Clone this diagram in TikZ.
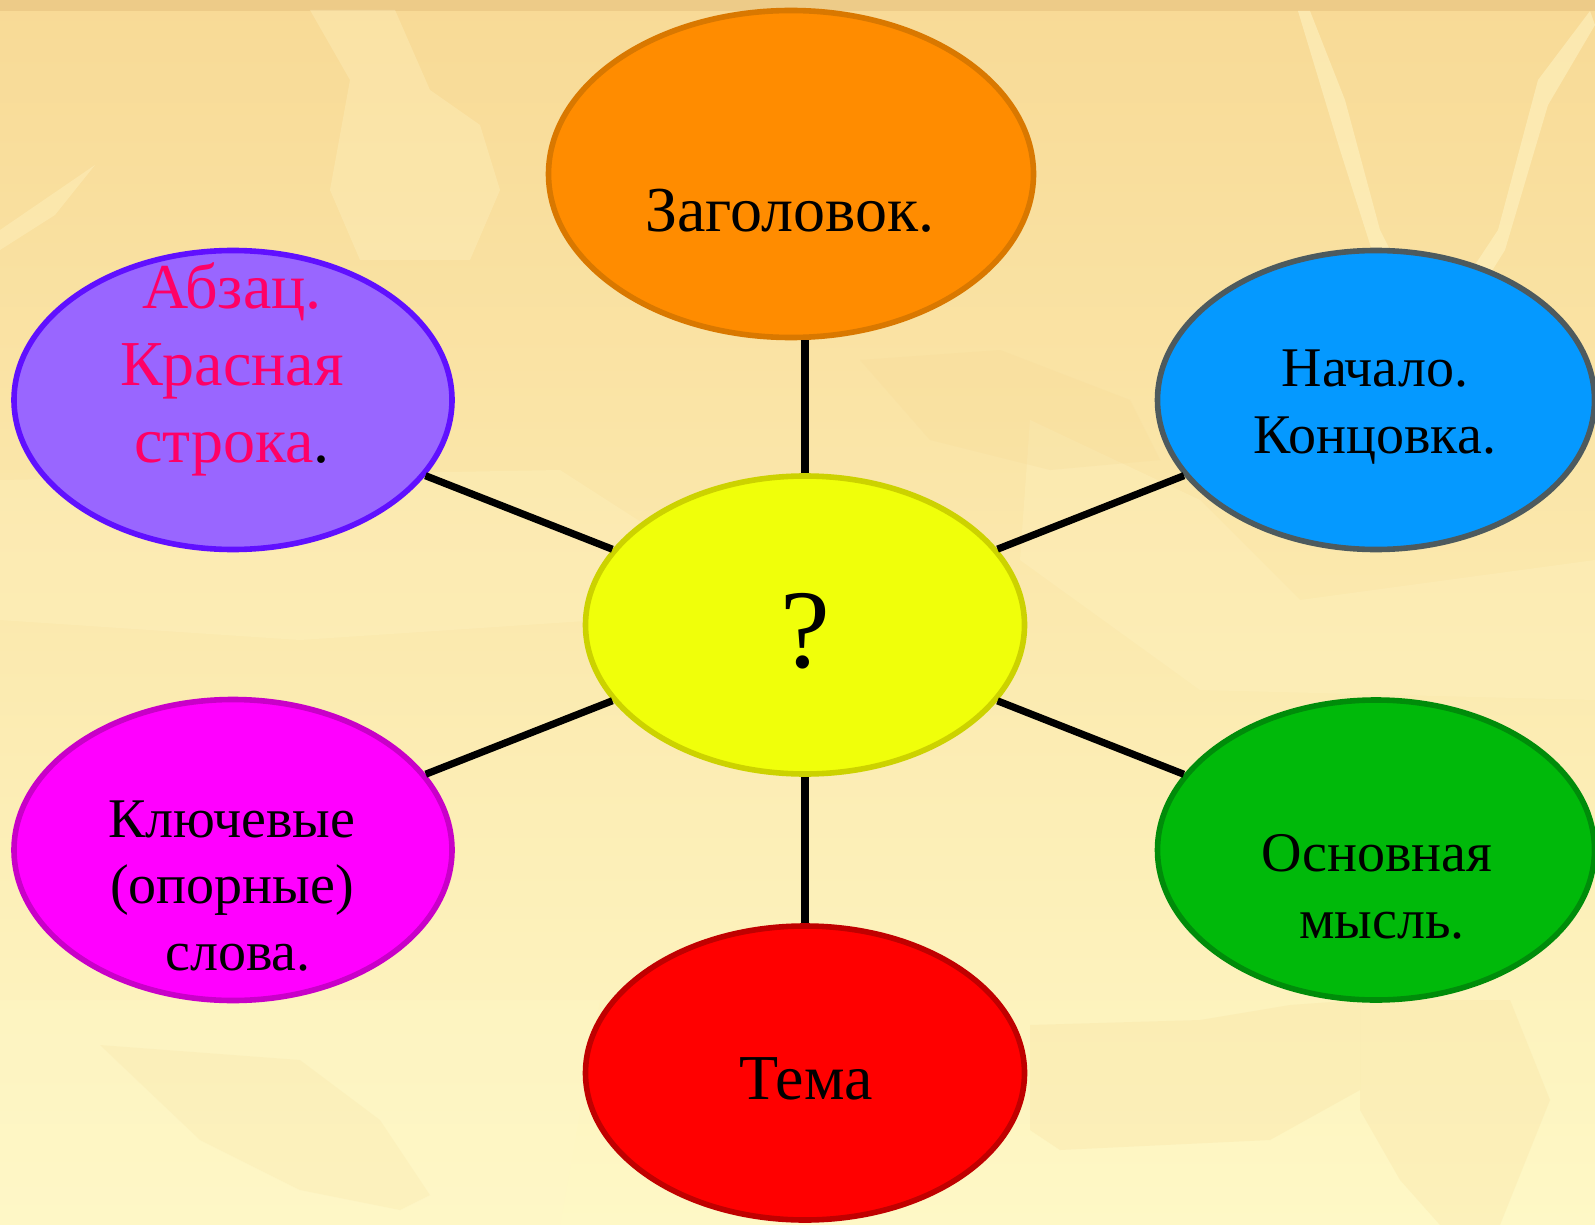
\documentclass[tikz,border=0pt]{standalone}
\usepackage{fontspec}
\setmainfont{Liberation Serif}
\usetikzlibrary{shapes.geometric}
\definecolor{bgtop}{HTML}{F8DA96}
\definecolor{bgmid}{HTML}{FCEEB6}
\definecolor{bgbot}{HTML}{FEF8C6}
\definecolor{bgstrip}{HTML}{EDCB88}
\definecolor{crease}{HTML}{FFF6C8}
\definecolor{creasedark}{HTML}{F5D690}
\definecolor{orgfill}{HTML}{FF8C00}
\definecolor{orgline}{HTML}{D97800}
\definecolor{yelfill}{HTML}{F0FF0A}
\definecolor{yelline}{HTML}{CCD200}
\definecolor{purfill}{HTML}{9966FF}
\definecolor{purline}{HTML}{6010FF}
\definecolor{purtext}{HTML}{FF0066}
\definecolor{blufill}{HTML}{0599FF}
\definecolor{bluline}{HTML}{4D5A5E}
\definecolor{magfill}{HTML}{FF00FF}
\definecolor{magline}{HTML}{C800C8}
\definecolor{grnfill}{HTML}{00B90A}
\definecolor{grnline}{HTML}{008C0A}
\definecolor{redfill}{HTML}{FF0000}
\definecolor{redline}{HTML}{C00000}
\begin{document}
\begin{tikzpicture}[x=0.5pt,y=-0.5pt,
  bubble/.style={ellipse, line width=2.8pt, inner sep=0pt},
  bigtxt/.style={font=\fontsize{32}{38.5}\selectfont, align=center, anchor=base, inner sep=0pt},
  midtxt/.style={font=\fontsize{28}{33.2}\selectfont, align=center, anchor=base, inner sep=0pt},
  spoke/.style={line width=3.6pt, black}]
\useasboundingbox (0,0) rectangle (1595,1225);
% background
\shade[top color=bgtop, middle color=bgmid, bottom color=bgbot] (0,0) rectangle (1595,1225);
\fill[bgstrip] (0,0) rectangle (1595,11);
% paper creases
\fill[crease, opacity=0.3] (310,10) -- (395,10) -- (430,90) -- (480,125) -- (500,190) -- (470,260) -- (360,260) -- (330,190) -- (350,80) -- cycle;
\fill[crease, opacity=0.5] (1298,11) -- (1310,11) -- (1345,100) -- (1380,230) -- (1395,260) -- (1375,260) -- (1340,150) -- cycle;
\fill[crease, opacity=0.5] (1590,11) -- (1595,25) -- (1548,105) -- (1505,250) -- (1480,290) -- (1465,280) -- (1498,230) -- (1538,80) -- cycle;
\fill[crease, opacity=0.35] (0,230) -- (95,165) -- (55,215) -- (0,250) -- cycle;
\fill[crease, opacity=0.25] (0,480) -- (560,470) -- (700,560) -- (600,620) -- (300,640) -- (0,620) -- cycle;
\fill[crease, opacity=0.25] (1030,420) -- (1200,500) -- (1300,600) -- (1595,560) -- (1595,700) -- (1200,690) -- (1020,560) -- cycle;
\fill[crease, opacity=0.35] (0,1000) -- (600,1000) -- (560,1225) -- (0,1225) -- cycle;
\fill[creasedark, opacity=0.2] (1030,1025) -- (1200,1020) -- (1290,1005) -- (1360,1000) -- (1360,1090) -- (1270,1140) -- (1060,1150) -- (1030,1130) -- cycle;
\fill[creasedark, opacity=0.2] (1360,1000) -- (1510,1000) -- (1550,1100) -- (1500,1225) -- (1440,1225) -- (1400,1180) -- (1360,1110) -- cycle;
\fill[creasedark, opacity=0.15] (100,1045) -- (200,1140) -- (300,1190) -- (400,1210) -- (430,1195) -- (380,1120) -- (300,1060) -- cycle;
\fill[creasedark, opacity=0.2] (860,360) -- (1000,350) -- (1130,400) -- (1160,460) -- (1050,470) -- (930,440) -- cycle;
% bubbles
\node[bubble, draw=orgline, fill=orgfill, minimum width=242.5pt, minimum height=163.5pt] (org) at (791,174) {};
\node[bubble, draw=yelline, fill=yelfill, minimum width=219.5pt, minimum height=149pt] (yel) at (805,625) {};
\node[bubble, draw=purline, fill=purfill, minimum width=219pt, minimum height=149.5pt] (pur) at (233,400) {};
\node[bubble, draw=bluline, fill=blufill, minimum width=218.5pt, minimum height=149.5pt] (blu) at (1376,400) {};
\node[bubble, draw=magline, fill=magfill, minimum width=219pt, minimum height=150.5pt] (mag) at (233,850) {};
\node[bubble, draw=grnline, fill=grnfill, minimum width=218.5pt, minimum height=150pt] (grn) at (1376,850) {};
\node[bubble, draw=redline, fill=redfill, minimum width=219.5pt, minimum height=147pt] (red) at (805,1073) {};
% spokes
\draw[spoke] (yel.north) -- (yel.north |- org.south);
\draw[spoke] (yel) -- (red);
\draw[spoke] (yel) -- (pur);
\draw[spoke] (yel) -- (blu);
\draw[spoke] (yel) -- (mag);
\draw[spoke] (yel) -- (grn);
% labels (multi-line nodes: base anchor is the last line's baseline)
\node[bigtxt] (torg) at (790,232) {Заголовок.};
\node[bigtxt, text=purtext] (tpur) at (232,462) {Абзац.\\Красная\\строка\textcolor{black}{.}};
\node[midtxt] (tblu) at (1375,453) {Начало.\\Концовка.};
\node[midtxt] (tmag) at (232,970) {Ключевые\\(опорные)\\\hspace*{6pt}слова.};
\node[midtxt] (tgrn) at (1377,938) {Основная\\\hspace*{5pt}мысль.};
\node[bigtxt] (tred) at (806,1099) {Тема};
\node[font=\fontsize{56}{60}\selectfont, anchor=base, inner sep=0pt] (tyel) at (805,667) {?};
\end{tikzpicture}
\end{document}
